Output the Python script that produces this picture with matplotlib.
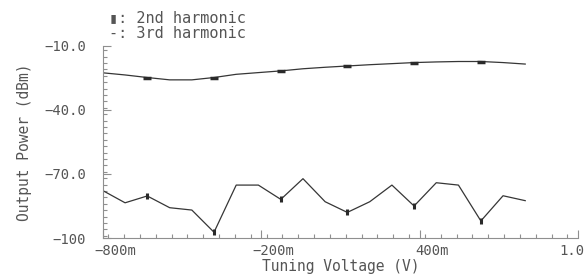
import numpy as np
import matplotlib
matplotlib.use("Agg")
import matplotlib.pyplot as plt
import matplotlib.transforms as mtransforms
from matplotlib.ticker import MultipleLocator


# Tuning voltage sweep (V)
tuning_voltage = [-0.800, -0.716, -0.632, -0.547, -0.463, -0.379, -0.295,
                  -0.211, -0.126, -0.042, 0.042, 0.126, 0.211, 0.295,
                  0.379, 0.463, 0.547, 0.632, 0.716, 0.800]

# Output power (dBm)
upper_curve = [-22.6, -23.6, -24.8, -25.9, -25.9, -24.8, -23.3, -22.5,
               -21.7, -20.7, -20.0, -19.4, -18.8, -18.3, -17.8, -17.5,
               -17.3, -17.3, -17.8, -18.5]
lower_curve = [-77.8, -83.5, -80.3, -85.8, -86.9, -97.3, -75.2, -75.2,
               -81.9, -72.2, -83.0, -88.0, -83.0, -75.2, -85.0, -74.1,
               -75.2, -92.0, -80.2, -82.5]

x_ticks = [-0.8, -0.2, 0.4, 1.0]
x_tick_labels = ["\u2212800m", "\u2212200m", "400m", "1.0"]
y_ticks = [-100, -70, -40, -10]
y_tick_labels = ["\u2212100", "\u221270.0", "\u221240.0", "\u221210.0"]

TEXT = "#555555"
AXIS = "#8f8f8f"
LINE = "#363636"
MONO = ["DejaVu Sans Mono", "DejaVu Sans"]

plt.rcParams["font.family"] = MONO

fig = plt.figure(figsize=(5.88, 2.75), dpi=100)
ax = fig.add_axes([0.175, 0.1345, 0.808, 0.6985])

marks = [2, 5, 8, 11, 14, 17]
ax.plot(tuning_voltage, upper_curve, color=LINE, lw=0.9,
        marker="_", markevery=marks, ms=6, mew=2.5, mec="#2a2a2a")
ax.plot(tuning_voltage, lower_curve, color=LINE, lw=0.9,
        marker="|", markevery=marks, ms=4.5, mew=2.2, mec="#2a2a2a")

ax.set_xlim(-0.8, 1.0)
ax.set_ylim(-100, -10)

for side in ["top", "right"]:
    ax.spines[side].set_visible(False)
for side in ["left", "bottom"]:
    ax.spines[side].set_color(AXIS)
    ax.spines[side].set_linewidth(0.8)

ax.set_xticks(x_ticks)
ax.set_xticklabels(x_tick_labels)
ax.set_yticks(y_ticks)
ax.set_yticklabels(y_tick_labels)
ax.xaxis.set_minor_locator(MultipleLocator(0.06))
ax.yaxis.set_minor_locator(MultipleLocator(3))

ax.tick_params(which="both", direction="in", colors=AXIS, labelcolor=TEXT,
               labelsize=10, width=0.8)
ax.tick_params(which="major", length=6)
ax.tick_params(which="minor", length=3)
ax.tick_params(axis="y", pad=12)
ax.tick_params(axis="x", pad=4)

# nudge the x labels the way the original plotter placed them
for lbl in ax.get_xticklabels():
    dx = 12 if lbl.get_text().endswith("m") else -6
    shift = mtransforms.ScaledTranslation(dx / 100, 0, fig.dpi_scale_trans)
    lbl.set_transform(lbl.get_transform() + shift)

ax.set_xlabel("Tuning Voltage (V)", fontsize=10.5, color=TEXT, labelpad=1)
ax.set_ylabel("Output Power (dBm)", fontsize=10.5, color=TEXT, labelpad=9)

fig.text(0.185, 0.935, "\u25ae: 2nd harmonic", fontsize=11, color=TEXT,
         va="center", ha="left")
fig.text(0.185, 0.880, "-: 3rd harmonic", fontsize=11, color=TEXT,
         va="center", ha="left")

fig.savefig("out.png", dpi=100)
